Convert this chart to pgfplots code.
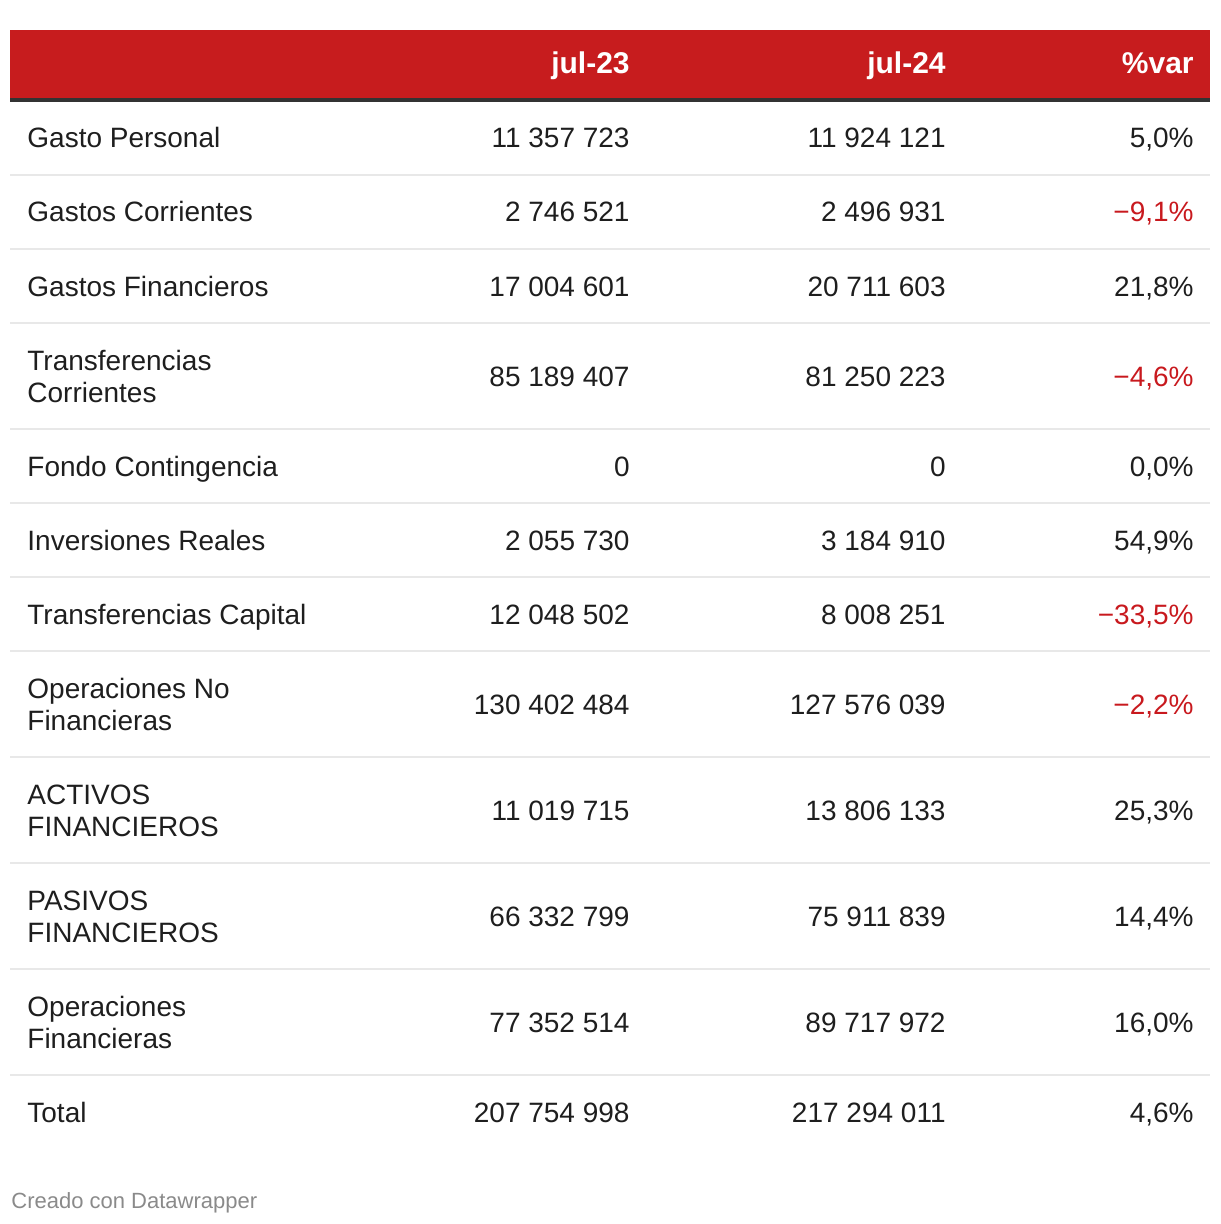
\documentclass[border=0pt]{standalone}
\usepackage{pgfplots}
\usepackage{pgfplotstable}
\pgfplotsset{compat=1.18}
\usepackage{fontspec}
\setmainfont{Liberation Sans}
\definecolor{hdr}{HTML}{C71C1E}
\definecolor{hdrline}{HTML}{333333}
\definecolor{sep}{HTML}{E8E8E8}
\definecolor{txt}{HTML}{1E1E1E}
\definecolor{negred}{HTML}{C8191E}
\definecolor{foot}{HTML}{8A8A8A}

\pgfplotstableread[col sep=semicolon,row sep=\\]{
y;t\\
148;Gasto Personal\\
222;Gastos Corrientes\\
296;Gastos Financieros\\
370;Transferencias\\
402;Corrientes\\
476;Fondo Contingencia\\
550;Inversiones Reales\\
624;Transferencias Capital\\
698;Operaciones No\\
730;Financieras\\
804;ACTIVOS\\
836;FINANCIEROS\\
910;PASIVOS\\
942;FINANCIEROS\\
1016;Operaciones\\
1048;Financieras\\
1122;Total\\
}\labels

\pgfplotstableread[col sep=semicolon,row sep=\\]{
y;t\\
148;11~357~723\\
222;2~746~521\\
296;17~004~601\\
386;85~189~407\\
476;0\\
550;2~055~730\\
624;12~048~502\\
714;130~402~484\\
820;11~019~715\\
926;66~332~799\\
1032;77~352~514\\
1122;207~754~998\\
}\vA

\pgfplotstableread[col sep=semicolon,row sep=\\]{
y;t\\
148;11~924~121\\
222;2~496~931\\
296;20~711~603\\
386;81~250~223\\
476;0\\
550;3~184~910\\
624;8~008~251\\
714;127~576~039\\
820;13~806~133\\
926;75~911~839\\
1032;89~717~972\\
1122;217~294~011\\
}\vB

\pgfplotstableread[col sep=semicolon,row sep=\\]{
y;t\\
148;5,0\%\\
222;\textcolor{negred}{−9,1\%}\\
296;21,8\%\\
386;\textcolor{negred}{−4,6\%}\\
476;0,0\%\\
550;54,9\%\\
624;\textcolor{negred}{−33,5\%}\\
714;\textcolor{negred}{−2,2\%}\\
820;25,3\%\\
926;14,4\%\\
1032;16,0\%\\
1122;4,6\%\\
}\vC

\pgfplotstableread[col sep=semicolon,row sep=\\]{
x;t\\
630;jul-23\\
946;jul-24\\
1194;\%var\\
}\heads

\begin{document}
\begin{tikzpicture}
\begin{axis}[
  width=610pt, height=612pt, scale only axis,
  xmin=0, xmax=1220, ymin=0, ymax=1224,
  y dir=reverse, hide axis, clip=false,
  point meta=explicit symbolic,
]
% bounding area
\addplot[draw=none, forget plot] coordinates {(0,0) (1220,1224)};
% header bar
\addplot[fill=hdr, draw=none] coordinates {(10,30) (1210,30) (1210,98.5) (10,98.5)};
\addplot[fill=hdrline, draw=none] coordinates {(10,98.5) (1210,98.5) (1210,102.5) (10,102.5)};
% separators
\addplot[sep, line width=1pt, unbounded coords=jump] coordinates {
 (10,175) (1210,175) (nan,nan)
 (10,249) (1210,249) (nan,nan)
 (10,323) (1210,323) (nan,nan)
 (10,429) (1210,429) (nan,nan)
 (10,503) (1210,503) (nan,nan)
 (10,577) (1210,577) (nan,nan)
 (10,651) (1210,651) (nan,nan)
 (10,757) (1210,757) (nan,nan)
 (10,863) (1210,863) (nan,nan)
 (10,969) (1210,969) (nan,nan)
 (10,1075) (1210,1075) (nan,nan)
};
% header text
\addplot[only marks, mark=none, nodes near coords,
  every node near coord/.append style={anchor=base east, inner sep=0pt, text=white,
    font=\fontsize{15pt}{18pt}\selectfont\bfseries}]
  table[x=x, y expr=74, meta=t] {\heads};
% labels
\addplot[only marks, mark=none, nodes near coords,
  every node near coord/.append style={anchor=base west, inner sep=0pt, text=txt,
    font=\fontsize{14pt}{16pt}\selectfont}]
  table[x expr=27, y=y, meta=t] {\labels};
\addplot[only marks, mark=none, nodes near coords,
  every node near coord/.append style={anchor=base east, inner sep=0pt, text=txt,
    font=\fontsize{14pt}{16pt}\selectfont}]
  table[x expr=630, y=y, meta=t] {\vA};
\addplot[only marks, mark=none, nodes near coords,
  every node near coord/.append style={anchor=base east, inner sep=0pt, text=txt,
    font=\fontsize{14pt}{16pt}\selectfont}]
  table[x expr=946, y=y, meta=t] {\vB};
\addplot[only marks, mark=none, nodes near coords,
  every node near coord/.append style={anchor=base east, inner sep=0pt, text=txt,
    font=\fontsize{14pt}{16pt}\selectfont}]
  table[x expr=1194, y=y, meta=t] {\vC};
% footer
\addplot[only marks, mark=none, nodes near coords,
  every node near coord/.append style={anchor=base west, inner sep=0pt, text=foot,
    font=\fontsize{11pt}{13pt}\selectfont}]
  coordinates {(11,1208) [Creado con Datawrapper]};
\end{axis}
\end{tikzpicture}
\end{document}
